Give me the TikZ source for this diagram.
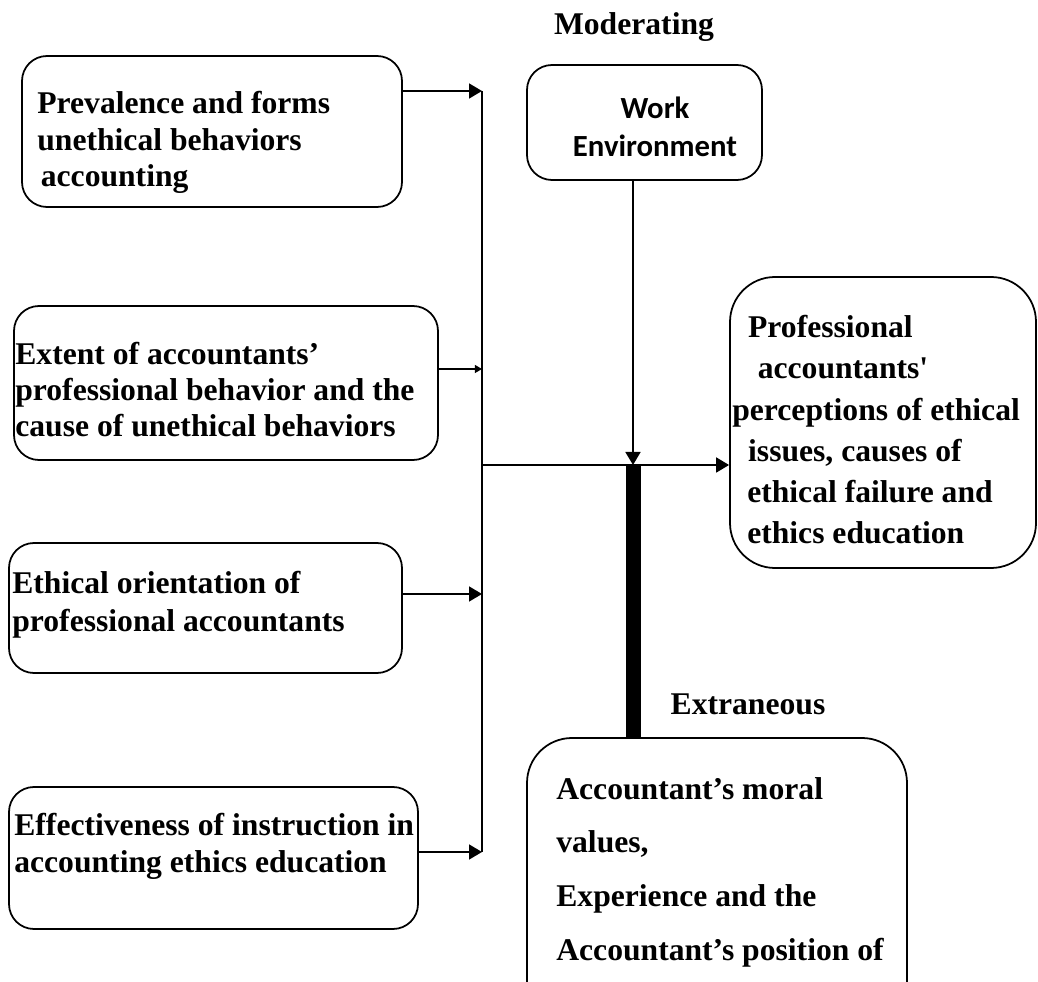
\documentclass[tikz,border=0pt]{standalone}
\usepackage{fontspec}
\setmainfont{Liberation Serif}
\newfontfamily\calibrifont{Carlito}
\usetikzlibrary{positioning,arrows.meta,fit}

\begin{document}
\begin{tikzpicture}[x=0.02cm, y=-0.02cm,
  caja/.style={draw, line width=1pt, rounded corners=0.5cm, inner sep=0pt},
  cajagrande/.style={caja, rounded corners=0.9cm},
  texto/.style={anchor=base west, align=left, inner sep=0pt, font=\fontsize{18}{21}\selectfont\bfseries},
  etiqueta/.style={anchor=base, inner sep=0pt, font=\fontsize{18}{21}\selectfont\bfseries},
  linea/.style={line width=1.1pt},
  flecha/.style={line width=1.1pt, -{Triangle[length=7.4pt,width=8.5pt]}},
  flechafina/.style={line width=0.6pt, -{Triangle[length=4pt,width=4.5pt]}}]
  \useasboundingbox (0,0) rectangle (1038,982);
  % cajas de la izquierda (texto anclado en la linea base de la ultima linea)
  \node[caja, fit={(22,56) (402,207)}] (prev) {};
  \node[texto] (prevtxt) at (37,187) {Prevalence and forms\\unethical behaviors\\\hspace*{2pt}accounting};
  \node[caja, fit={(14,306) (438,460)}] (ext) {};
  \node[texto, font=\fontsize{18}{20.5}\selectfont\bfseries] (exttxt) at (15,437) {Extent of accountants’\\professional behavior and the\\cause of unethical behaviors};
  \node[caja, fit={(9,543) (402,673)}] (orient) {};
  \node[texto, font=\fontsize{18}{22}\selectfont\bfseries] (orienttxt) at (12,632) {Ethical orientation of\\professional accountants};
  \node[caja, fit={(9,787) (418,929)}] (efect) {};
  \node[texto] (efecttxt) at (14,872) {Effectiveness of instruction in\\accounting ethics education};
  % moderadora
  \node[etiqueta] (moder) at (634,35) {Moderating};
  \node[caja, fit={(527,65) (762,180)}] (entorno) {};
  \node[anchor=base, align=center, inner sep=0pt, font=\calibrifont\fontsize{17.5}{22}\selectfont\bfseries] (entornotxt) at (655,157) {Work\\Environment};
  % dependiente
  \node[cajagrande, fit={(730,277) (1036,568)}] (percep) {};
  \node[texto, font=\fontsize{18}{23.5}\selectfont\bfseries] (perceptxt) at (732,544) {\hspace*{9pt}Professional\\\hspace*{14.5pt}accountants\textquotesingle\\perceptions of ethical\\\hspace*{9pt}issues, causes of\\\hspace*{8.5pt}ethical failure and\\\hspace*{8.5pt}ethics education};
  % extrana
  \node[etiqueta] (extran) at (748,715) {Extraneous};
  \node[cajagrande, fit={(527,738) (907,1030)}] (extra) {};
  \node[texto, font=\fontsize{18}{30.5}\selectfont\bfseries] (extratxt) at (556,960) {Accountant’s moral\\values,\\Experience and the\\Accountant’s position of};
  % conectores
  \coordinate (b1) at (482,91);
  \coordinate (b2) at (482,369);
  \coordinate (b3) at (482,594);
  \coordinate (b4) at (482,852);
  \coordinate (bmid) at (482,465);
  \coordinate (union) at (633,465);
  \draw[linea] (b1) -- (b4);
  \draw[flecha] (prev.east |- b1) -- (b1);
  \draw[flechafina] (ext.east |- b2) -- (b2);
  \draw[flecha] (orient.east |- b3) -- (b3);
  \draw[flecha] (efect.east |- b4) -- (b4);
  \draw[flecha] (bmid) -- (percep.west |- bmid);
  \draw[flecha] (entorno.south -| union) -- (union);
  \draw[line width=0.3cm] (union) -- (extra.north -| union);
\end{tikzpicture}
\end{document}
